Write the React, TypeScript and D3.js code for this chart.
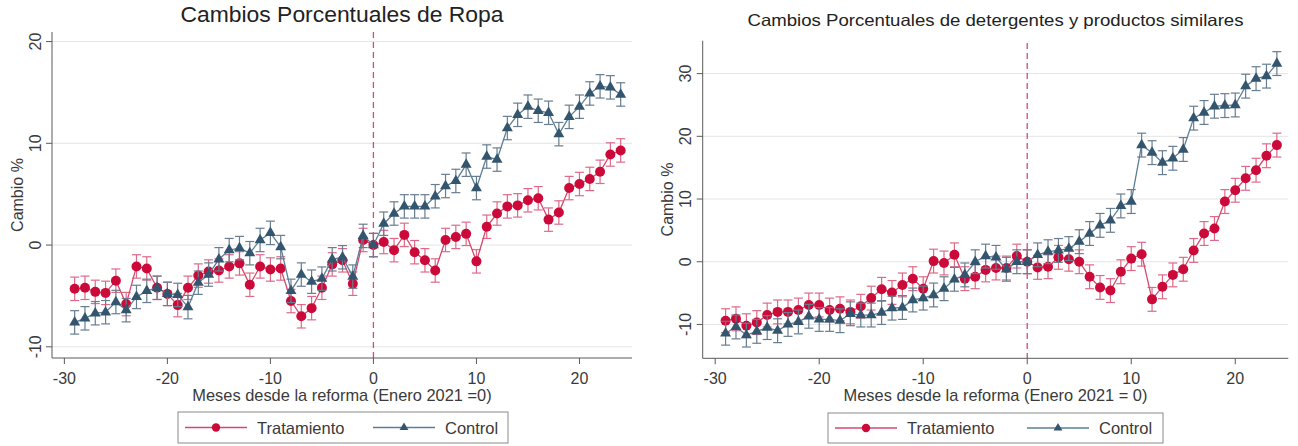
import React from "react";
import * as d3 from "d3";

// Months relative to the reform (January 2021 = 0)
const months = [
  -29, -28, -27, -26, -25, -24, -23, -22, -21, -20,
  -19, -18, -17, -16, -15, -14, -13, -12, -11, -10,
  -9, -8, -7, -6, -5, -4, -3, -2, -1,
  0, 1, 2, 3, 4, 5, 6, 7, 8, 9,
  10, 11, 12, 13, 14, 15, 16, 17, 18, 19,
  20, 21, 22, 23, 24,
];

// Ropa: percentage change
const ropaTratamiento = [
  -4.3, -4.2, -4.6, -4.7, -3.5, -5.8, -2.1, -2.3, -4.2, -4.8,
  -5.9, -4.2, -3.0, -2.6, -2.5, -2.1, -1.8, -3.9, -2.1, -2.4,
  -2.3, -5.5, -7.0, -6.2, -4.2, -1.9, -1.5, -3.8, 0.5,
  0.0, 0.3, -0.5, 1.0, -0.7, -1.5, -2.5, 0.5, 0.8, 1.1,
  -1.6, 1.8, 3.1, 3.8, 3.9, 4.4, 4.6, 2.5, 3.2, 5.6,
  6.0, 6.5, 7.2, 8.9, 9.3,
];
const ropaControl = [
  -7.6, -7.2, -6.7, -6.6, -5.6, -6.4, -5.1, -4.5, -4.2, -4.8,
  -4.9, -6.1, -3.7, -2.9, -1.4, -0.5, -0.3, -0.8, 0.5, 1.2,
  -0.2, -4.5, -2.9, -3.6, -3.3, -1.4, -1.2, -3.1, 0.9,
  0.0, 2.1, 3.1, 3.8, 3.8, 3.8, 4.8, 5.8, 6.3, 7.9,
  5.6, 8.7, 8.4, 11.5, 12.8, 13.6, 13.2, 13.0, 10.9, 12.6,
  13.6, 14.9, 15.6, 15.5, 14.8,
];
const ropaCiHalfWidth = 1.15;

// Detergentes y productos similares: percentage change
const detTratamiento = [
  -9.4, -9.1, -10.2, -9.7, -8.5, -8.0, -8.0, -7.7, -6.9, -6.9,
  -7.7, -7.5, -8.0, -7.1, -5.8, -4.4, -4.9, -3.7, -2.7, -4.3,
  0.1, -0.2, 1.1, -2.7, -2.4, -1.3, -1.0, -1.0, 0.9,
  0.0, -0.9, -0.8, 0.7, 0.4, 0.0, -2.4, -4.1, -4.6, -1.6,
  0.5, 1.2, -6.0, -4.0, -2.1, -1.2, 1.8, 4.5, 5.3, 9.6,
  11.4, 13.3, 14.6, 16.9, 18.6,
];
const detControl = [
  -11.4, -10.4, -11.7, -11.1, -10.5, -11.0, -10.0, -9.6, -8.7, -9.2,
  -9.2, -9.4, -8.3, -8.5, -8.5, -8.1, -7.4, -7.3, -6.1, -5.8,
  -5.3, -4.3, -2.8, -2.1, 0.0, 0.9, 0.7, -1.2, 0.0,
  0.0, 1.1, 1.6, 1.8, 2.1, 3.2, 4.5, 5.8, 6.6, 8.9,
  9.6, 18.6, 17.4, 15.8, 16.5, 17.9, 22.9, 23.8, 24.8, 24.9,
  25.0, 28.0, 29.2, 29.6, 31.6,
];
const detCiHalfWidth = 1.9;

const xTicks = [-30, -20, -10, 0, 10, 20];
const ropaYTicks = [-10, 0, 10, 20];
const detYTicks = [-10, 0, 10, 20, 30];
const seriesNames = ["Tratamiento", "Control"];

const FONT = "'Liberation Sans', Arial, Helvetica, sans-serif";
const TEXT = "#3a3a3a";
const AXIS = "#5a5a5a";
const GRID = "#e4e4e4";
const RED = { marker: "#cc0a3a", line: "#d4496e", ci: "#de6a88" };
const BLUE = { marker: "#33566e", line: "#5b7e98", ci: "#687d90" };

type Layout = {
  x0: number; x1: number; y0: number; y1: number;
  yDomain: [number, number];
  title: string; titleSize: number; titleY: number; titleWidth: number;
  xTitle: string;
  yLabelX: number; yTitleX: number; dashTop: number;
  legend: { x: number; y: number; w: number; h: number; second: number };
};

function Series({ values, ci, x, y, color, shape }: any) {
  const pts = months.map((m, i) => ({ m, v: values[i] }));
  const line = d3.line<any>().x((d) => x(d.m)).y((d) => y(d.v));
  const tri = d3.symbol().type(d3.symbolTriangle).size(52)();
  return (
    <g>
      {pts.map((d) => (
        <g key={"ci" + d.m} stroke={color.ci} strokeWidth={1.2}>
          <line x1={x(d.m)} x2={x(d.m)} y1={y(d.v - ci)} y2={y(d.v + ci)} />
          <line x1={x(d.m) - 4.5} x2={x(d.m) + 4.5} y1={y(d.v - ci)} y2={y(d.v - ci)} />
          <line x1={x(d.m) - 4.5} x2={x(d.m) + 4.5} y1={y(d.v + ci)} y2={y(d.v + ci)} />
        </g>
      ))}
      <path d={line(pts) || ""} fill="none" stroke={color.line} strokeWidth={1.3} />
      {pts.map((d) =>
        shape === "circle" ? (
          <circle key={"m" + d.m} cx={x(d.m)} cy={y(d.v)} r={5} fill={color.marker} />
        ) : (
          <path key={"m" + d.m} d={tri || ""} transform={`translate(${x(d.m)},${y(d.v)})`} fill={color.marker} />
        )
      )}
    </g>
  );
}

function LegendKey({ x, y, color, shape, label }: any) {
  const tri = d3.symbol().type(d3.symbolTriangle).size(34)();
  return (
    <g>
      <line x1={x} x2={x + 62} y1={y} y2={y} stroke={color.line} strokeWidth={1.3} />
      {shape === "circle" ? (
        <circle cx={x + 31} cy={y} r={4.2} fill={color.marker} />
      ) : (
        <path d={tri || ""} transform={`translate(${x + 31},${y})`} fill={color.marker} />
      )}
      <text x={x + 72} y={y} dominantBaseline="central" fontSize={16.5} fill={TEXT}>
        {label}
      </text>
    </g>
  );
}

function Panel({ layout, treat, control, ci, yTicks }: { layout: Layout; treat: number[]; control: number[]; ci: number; yTicks: number[] }) {
  const L = layout;
  const x = d3.scaleLinear().domain([-31.2, 25.1]).range([L.x0, L.x1]);
  const y = d3.scaleLinear().domain(L.yDomain).range([L.y1, L.y0]);
  const cx = (L.x0 + L.x1) / 2;
  const cy = (L.y0 + L.y1) / 2;
  return (
    <g fontFamily={FONT}>
      <text
        x={cx}
        y={L.titleY}
        textAnchor="middle"
        dominantBaseline="central"
        fontSize={L.titleSize}
        fill="#222"
        textLength={L.titleWidth}
        lengthAdjust="spacingAndGlyphs"
      >
        {L.title}
      </text>
      {yTicks.map((t) => (
        <line key={"g" + t} x1={L.x0} x2={L.x1} y1={y(t)} y2={y(t)} stroke={GRID} strokeWidth={1} />
      ))}
      <line x1={x(0)} x2={x(0)} y1={L.dashTop} y2={L.y1} stroke="#d8477a" strokeWidth={1.3} strokeDasharray="6,4" />
      <Series values={treat} ci={ci} x={x} y={y} color={RED} shape="circle" />
      <Series values={control} ci={ci} x={x} y={y} color={BLUE} shape="triangle" />
      {/* axes */}
      <line x1={L.x0} x2={L.x0} y1={L.y0} y2={L.y1} stroke={AXIS} strokeWidth={1} />
      <line x1={L.x0} x2={L.x1} y1={L.y1} y2={L.y1} stroke={AXIS} strokeWidth={1} />
      {yTicks.map((t) => (
        <g key={"yt" + t}>
          <line x1={L.x0 - 6} x2={L.x0} y1={y(t)} y2={y(t)} stroke={AXIS} />
          <text
            transform={`translate(${L.yLabelX},${y(t)}) rotate(-90)`}
            textAnchor="middle"
            dominantBaseline="central"
            fontSize={16}
            fill={TEXT}
          >
            {t}
          </text>
        </g>
      ))}
      {xTicks.map((t) => (
        <g key={"xt" + t}>
          <line x1={x(t)} x2={x(t)} y1={L.y1} y2={L.y1 + 6} stroke={AXIS} />
          <text x={x(t)} y={L.y1 + 20} textAnchor="middle" dominantBaseline="central" fontSize={16} fill={TEXT}>
            {t}
          </text>
        </g>
      ))}
      <text x={cx} y={395} textAnchor="middle" dominantBaseline="central" fontSize={16.4} fill={TEXT}>
        {L.xTitle}
      </text>
      <text
        transform={`translate(${L.yTitleX},${cy}) rotate(-90)`}
        textAnchor="middle"
        dominantBaseline="central"
        fontSize={16}
        fill={TEXT}
      >
        Cambio %
      </text>
      {/* legend */}
      <rect x={L.legend.x} y={L.legend.y} width={L.legend.w} height={L.legend.h} fill="#fff" stroke="#8a8a8a" strokeWidth={1} />
      <LegendKey x={L.legend.x + 7} y={L.legend.y + L.legend.h / 2} color={RED} shape="circle" label={seriesNames[0]} />
      <LegendKey x={L.legend.x + L.legend.second} y={L.legend.y + L.legend.h / 2} color={BLUE} shape="triangle" label={seriesNames[1]} />
    </g>
  );
}

const ropaLayout: Layout = {
  x0: 52, x1: 632, y0: 32, y1: 358,
  yDomain: [-11.1, 20.94],
  title: "Cambios Porcentuales de Ropa", titleSize: 21.5, titleY: 15, titleWidth: 323,
  xTitle: "Meses desde la reforma (Enero 2021 =0)",
  yLabelX: 35, yTitleX: 17, dashTop: 32,
  legend: { x: 178, y: 412, w: 330, h: 31, second: 195 },
};

const detLayout: Layout = {
  x0: 702.7, x1: 1288.3, y0: 40.7, y1: 358.3,
  yDomain: [-15.4, 35.25],
  title: "Cambios Porcentuales de detergentes y productos similares", titleSize: 16.5, titleY: 20, titleWidth: 496,
  xTitle: "Meses desde la reforma (Enero 2021 = 0)",
  yLabelX: 685, yTitleX: 667, dashTop: 43,
  legend: { x: 828, y: 413, w: 335, h: 30, second: 199 },
};

export default function App() {
  return (
    <svg
      width={1298}
      height={446}
      style={{ position: "absolute", left: 0, top: 0, background: "#fff" }}
    >
      <rect width={1298} height={446} fill="#fff" />
      <Panel layout={ropaLayout} treat={ropaTratamiento} control={ropaControl} ci={ropaCiHalfWidth} yTicks={ropaYTicks} />
      <Panel layout={detLayout} treat={detTratamiento} control={detControl} ci={detCiHalfWidth} yTicks={detYTicks} />
    </svg>
  );
}
